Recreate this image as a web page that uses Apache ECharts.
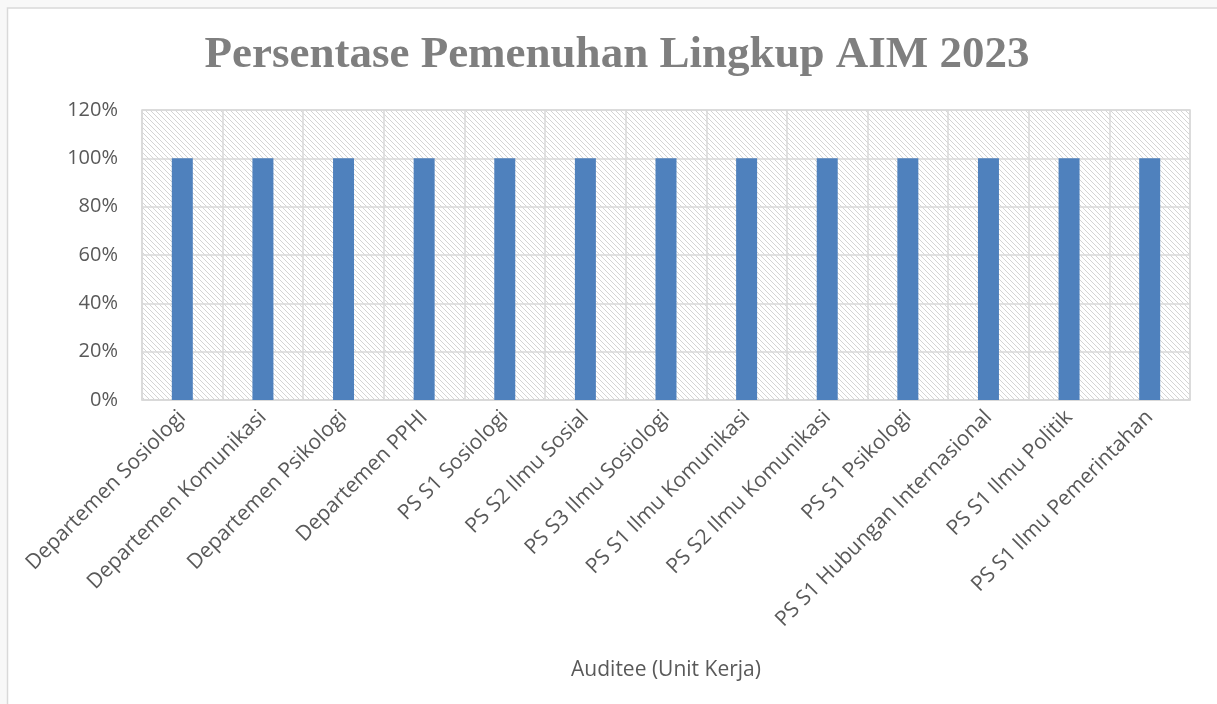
<!DOCTYPE html>
<html>
<head>
<meta charset="utf-8">
<script src="https://cdn.jsdelivr.net/npm/echarts@6/dist/echarts.min.js"></script>
<style>
  html, body { margin: 0; padding: 0; background: #f8f8f8; }
  #chart { width: 1217px; height: 704px; }
</style>
</head>
<body>
<div id="chart"></div>
<script>
const categories = [
  'Departemen Sosiologi', 'Departemen Komunikasi', 'Departemen Psikologi',
  'Departemen PPHI', 'PS S1 Sosiologi', 'PS S2 Ilmu Sosial',
  'PS S3 Ilmu Sosiologi', 'PS S1 Ilmu Komunikasi', 'PS S2 Ilmu Komunikasi',
  'PS S1 Psikologi', 'PS S1 Hubungan Internasional', 'PS S1 Ilmu Politik',
  'PS S1 Ilmu Pemerintahan'
];
const pemenuhan = [100, 100, 100, 100, 100, 100, 100, 100, 100, 100, 100, 100, 100];
const yTicks = [0, 20, 40, 60, 80, 100, 120];

// hatch pattern for plot background
function hatch() {
  const c = document.createElement('canvas');
  c.width = 5; c.height = 5;
  const g = c.getContext('2d');
  g.fillStyle = '#ffffff';
  g.fillRect(0, 0, 5, 5);
  g.strokeStyle = '#d4d4d4';
  g.lineWidth = 1;
  g.beginPath();
  g.moveTo(0, 0); g.lineTo(5, 5);
  g.moveTo(-3, 2); g.lineTo(3, 8);
  g.moveTo(2, -3); g.lineTo(8, 3);
  g.stroke();
  return c;
}

const chart = echarts.init(document.getElementById('chart'));
const txt = '#595959';
const font = '"Open Sans", "Noto Sans", sans-serif';

chart.setOption({
  backgroundColor: '#f8f8f8',
  animation: false,
  graphic: [{
    type: 'rect', z: -10,
    shape: { x: 7.5, y: 8, width: 1230, height: 720 },
    style: { fill: '#ffffff', stroke: '#d9d9d9', lineWidth: 1.5 }
  }],
  title: {
    text: 'Persentase Pemenuhan Lingkup AIM 2023',
    left: 612, top: 28, textAlign: 'center',
    textStyle: {
      fontFamily: '"Liberation Serif", serif', fontWeight: 'bold',
      fontSize: 45, color: '#7f7f7f'
    }
  },
  grid: {
    left: 142, right: 27, top: 110, bottom: 304,
    show: true,
    backgroundColor: { image: hatch(), repeat: 'repeat' },
    borderColor: '#d9d9d9', borderWidth: 1.5
  },
  xAxis: {
    type: 'category',
    data: categories,
    name: 'Auditee (Unit Kerja)',
    nameLocation: 'middle',
    nameGap: 260,
    nameTextStyle: { fontFamily: font, fontSize: 21, color: txt },
    axisLine: { lineStyle: { color: '#d9d9d9', width: 1.5 } },
    axisTick: { show: false },
    splitLine: { show: true, lineStyle: { color: '#d9d9d9', width: 1.5 } },
    axisLabel: {
      interval: 0, rotate: 45, margin: 14,
      fontFamily: font, fontSize: 21, color: txt
    }
  },
  yAxis: {
    type: 'value',
    min: yTicks[0], max: yTicks[yTicks.length - 1], interval: 20,
    axisLine: { show: false },
    axisTick: { show: false },
    splitLine: { lineStyle: { color: '#d9d9d9', width: 1.5 } },
    axisLabel: {
      margin: 24, fontFamily: font, fontSize: 20, color: txt,
      formatter: v => v + '%'
    }
  },
  series: [{
    type: 'bar',
    data: pemenuhan,
    barWidth: 21,
    itemStyle: { color: '#4f81bd' }
  }]
});
</script>
</body>
</html>
